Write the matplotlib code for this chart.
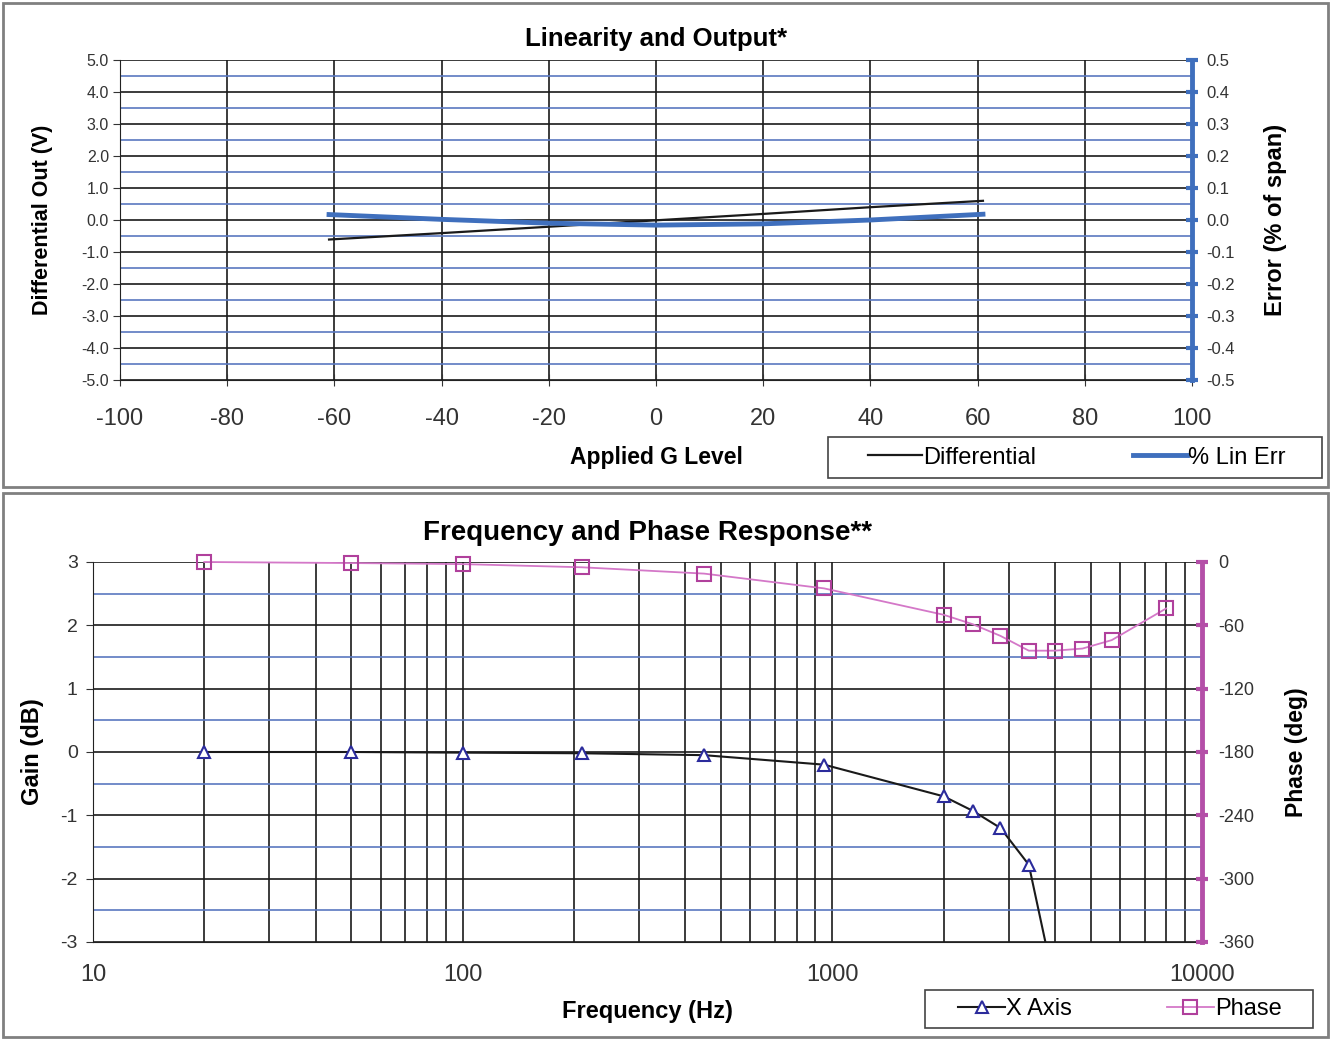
import numpy as np
import matplotlib
matplotlib.use('Agg')
from matplotlib import pyplot as plt
from matplotlib.patches import Rectangle
from matplotlib.ticker import MultipleLocator, FixedLocator, NullFormatter

plt.rcParams['font.family'] = ['Liberation Sans', 'DejaVu Sans']
plt.rcParams['axes.unicode_minus'] = False

# --- top chart data ---
g_level = [-61, -40, -20, 0, 20, 40, 61]
differential = [-0.61, -0.41, -0.21, -0.01, 0.19, 0.40, 0.60]
lin_err = [0.017, 0.002, -0.010, -0.016, -0.012, 0.000, 0.018]

# --- bottom chart data ---
freq = [20, 50, 100, 210, 450, 950, 2000, 2400, 2850, 3400, 3900]
gain = [0.0, 0.0, -0.01, -0.02, -0.05, -0.20, -0.70, -0.93, -1.20, -1.78, -3.4]
phase_freq = [20, 50, 100, 210, 450, 950, 2000, 2400, 2850, 3400, 4000, 4750, 5700, 8000]
phase = [0, -1, -2, -5, -11, -25, -50, -59, -70, -84, -84, -82, -74, -44]

top_yticks = [5, 4, 3, 2, 1, 0, -1, -2, -3, -4, -5]
top_xticks = [-100, -80, -60, -40, -20, 0, 20, 40, 60, 80, 100]
err_ticks = [0.5, 0.4, 0.3, 0.2, 0.1, 0.0, -0.1, -0.2, -0.3, -0.4, -0.5]
phase_ticks = [0, -60, -120, -180, -240, -300, -360]
freq_ticks = [10, 100, 1000, 10000]

W, H = 1333, 1040
fig = plt.figure(figsize=(W / 100, H / 100), dpi=100)


def box(x0, y0, x1, y1):
    # pixel coords (top-left origin) -> figure fraction
    return [x0 / W, 1 - y1 / H, (x1 - x0) / W, (y1 - y0) / H]


def frame(x0, y0, x1, y1, color, lw):
    fig.patches.append(Rectangle((x0 / W, 1 - y1 / H), (x1 - x0) / W, (y1 - y0) / H,
                                 transform=fig.transFigure, fill=False,
                                 edgecolor=color, lw=lw))


# outer frames
frame(3, 3, 1328, 487, '#808080', 2)
frame(3, 493, 1328, 1037, '#808080', 2)

blue_grid = '#5a78c0'
black_grid = '#1a1a1a'
lin_blue = '#3f6fbd'
mag = '#b44fa8'
tick_col = '#333333'

# ================= top chart =================
ax1 = fig.add_axes(box(120, 60, 1192, 380))
ax1.set_xlim(-100, 100)
ax1.set_ylim(-5, 5)
ax1.set_xticks(top_xticks)
ax1.set_xticklabels([str(v) for v in top_xticks], fontsize=17)
ax1.set_yticks(top_yticks)
ax1.set_yticklabels(['%.1f' % v for v in top_yticks], fontsize=11.5)
ax1.yaxis.set_minor_locator(MultipleLocator(0.5))
ax1.grid(True, which='major', color=black_grid, lw=1.2)
ax1.grid(True, which='minor', axis='y', color=blue_grid, lw=1.2)
ax1.tick_params(axis='x', direction='inout', length=8, pad=16, colors=tick_col)
ax1.tick_params(axis='y', direction='out', length=5, pad=3, colors=tick_col)
ax1.tick_params(axis='y', which='minor', length=0)
for s in ['top', 'right']:
    ax1.spines[s].set_visible(False)
ax1.spines['left'].set_color('#222')
ax1.spines['bottom'].set_color('#222')
l_diff, = ax1.plot(g_level, differential, color='#1a1a1a', lw=1.6, zorder=5)
ax1.set_ylabel('Differential Out (V)', fontsize=15.5, fontweight='bold', labelpad=20)
ax1.set_xlabel('Applied G Level', fontsize=16.5, fontweight='bold', labelpad=12)
ax1.set_title('Linearity and Output*', fontsize=18.5, fontweight='bold', pad=10)

ax1r = ax1.twinx()
ax1r.set_ylim(-0.5, 0.5)
ax1r.set_yticks(err_ticks)
ax1r.set_yticklabels(['%.1f' % v for v in err_ticks], fontsize=12)
for s in ['top', 'left', 'bottom']:
    ax1r.spines[s].set_visible(False)
ax1r.spines['right'].set_color(lin_blue)
ax1r.spines['right'].set_linewidth(3.5)
ax1r.tick_params(axis='y', direction='inout', length=9, width=3, color=lin_blue,
                 labelcolor=tick_col, pad=6)
l_err, = ax1r.plot(g_level, lin_err, color=lin_blue, lw=3.5, zorder=5)
ax1r.set_ylabel('Error (% of span)', fontsize=17, fontweight='bold', labelpad=21)

frame(828, 437, 1322, 478, '#444444', 1.2)
fig.legend([l_diff, l_err], ['Differential', '% Lin Err'], ncol=2, loc='center',
           bbox_to_anchor=box(868, 437, 1286, 478), mode='expand',
           fontsize=17, frameon=False, handlelength=2.3, handletextpad=0.05,
           borderpad=0.0, borderaxespad=0.0)

# ================= bottom chart =================
ax2 = fig.add_axes(box(93, 562, 1202, 942))
ax2.set_xscale('log')
ax2.set_xlim(10, 10000)
ax2.set_ylim(-3, 3)
ax2.xaxis.set_major_locator(FixedLocator(freq_ticks))
ax2.set_xticklabels([str(v) for v in freq_ticks], fontsize=17)
ax2.xaxis.set_minor_locator(FixedLocator([m * d for d in [10, 100, 1000] for m in range(2, 10)]))
ax2.xaxis.set_minor_formatter(NullFormatter())
ax2.set_yticks([3, 2, 1, 0, -1, -2, -3])
ax2.set_yticklabels(['3', '2', '1', '0', '-1', '-2', '-3'], fontsize=14)
ax2.yaxis.set_minor_locator(MultipleLocator(0.5))
ax2.grid(True, which='major', color=black_grid, lw=1.2)
ax2.grid(True, which='minor', axis='x', color=black_grid, lw=1.2)
ax2.grid(True, which='minor', axis='y', color=blue_grid, lw=1.2)
ax2.tick_params(axis='x', which='both', length=0, pad=16, colors=tick_col)
ax2.tick_params(axis='y', direction='out', length=5, pad=6, colors=tick_col)
ax2.tick_params(axis='y', which='minor', length=0)
for s in ['top', 'right']:
    ax2.spines[s].set_visible(False)
ax2.spines['left'].set_color('#222')
ax2.spines['bottom'].set_color('#222')
l_x, = ax2.plot(freq, gain, color='#1a1a1a', lw=1.5, marker='^', ms=9,
                mfc='white', mec='#2b2b9c', mew=1.5, zorder=5)
ax2.set_ylabel('Gain (dB)', fontsize=17, fontweight='bold', labelpad=12)
ax2.set_xlabel('Frequency (Hz)', fontsize=17, fontweight='bold', labelpad=10)
ax2.set_title('Frequency and Phase Response**', fontsize=20, fontweight='bold', pad=16)

ax2r = ax2.twinx()
ax2r.set_ylim(-360, 0)
ax2r.set_yticks(phase_ticks)
ax2r.set_yticklabels([str(v) for v in phase_ticks], fontsize=13)
for s in ['top', 'left', 'bottom']:
    ax2r.spines[s].set_visible(False)
ax2r.spines['right'].set_color(mag)
ax2r.spines['right'].set_linewidth(3.5)
ax2r.tick_params(axis='y', direction='inout', length=9, width=3, color=mag,
                 labelcolor=tick_col, pad=7)
l_ph, = ax2r.plot(phase_freq, phase, color='#d478c8', lw=1.3, marker='s', ms=10,
                  mfc='none', mec='#b0409c', mew=1.5, zorder=5, clip_on=False)
ax2r.set_ylabel('Phase (deg)', fontsize=16.5, fontweight='bold', labelpad=22)

frame(925, 990, 1313, 1028, '#444444', 1.2)
fig.legend([l_x, l_ph], ['X Axis', 'Phase'], ncol=2, loc='center',
           bbox_to_anchor=box(958, 990, 1282, 1028), mode='expand',
           fontsize=17, frameon=False, handlelength=2.0, handletextpad=0.05,
           borderpad=0.0, borderaxespad=0.0)

fig.savefig('out.png', dpi=100)
